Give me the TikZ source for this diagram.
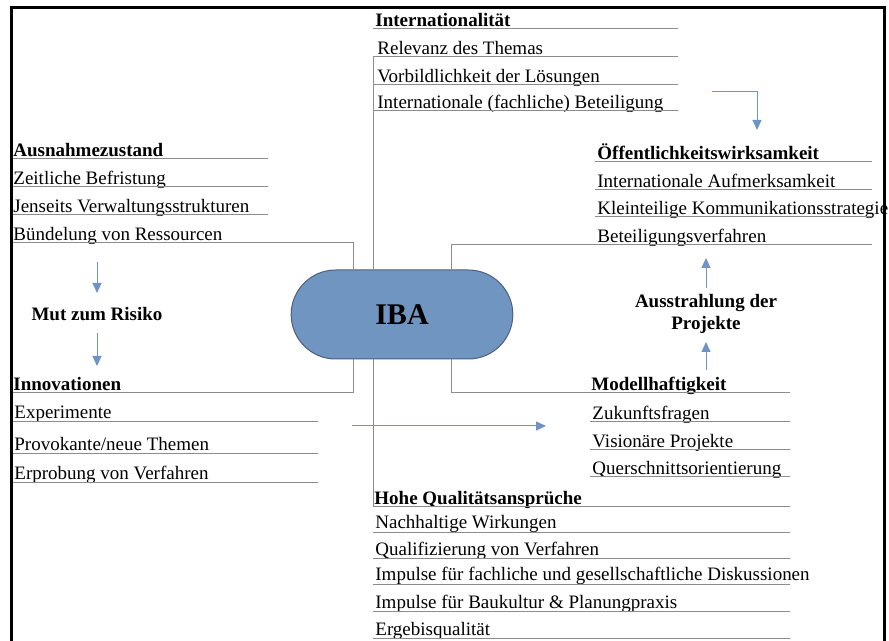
\documentclass[tikz,border=0pt]{standalone}
\usepackage{fontspec}
\setmainfont{Liberation Serif}
\usetikzlibrary{arrows.meta,positioning,shapes.misc}

\definecolor{ibablue}{HTML}{7195C1}
\definecolor{ibaedge}{HTML}{4A5F7E}
\definecolor{flowblue}{HTML}{6F93C4}
\definecolor{rulegray}{HTML}{8C8C8C}

\begin{document}
\begin{tikzpicture}[x=0.5pt,y=-0.5pt,
	item/.style={anchor=base west, inner sep=0pt, font=\fontsize{9.5}{11}\selectfont},
	head/.style={item, font=\fontsize{9.5}{11}\selectfont\bfseries},
	rule/.style={draw=rulegray, line width=0.5pt},
	flow/.style={draw=flowblue, line width=0.5pt, -{Triangle[width=4.5pt,length=5pt]}}]
	\useasboundingbox (0,0) rectangle (889,641);
	
	% frame
	\draw[line width=1.5pt] (11,641) -- (11,8) -- (884,8) -- (884,641);
	
	% centre
	\node[rounded rectangle, draw=ibaedge, fill=ibablue, line width=0.5pt,
		minimum width=117.5pt, minimum height=44.5pt,
		font=\fontsize{15}{17}\selectfont\bfseries] (iba) at (402,314.5) {IBA};
	
	% top group
	\node[head] (int) at (375,27) {Internationalität};
	\draw[rule] (373,29) -- (678,29);
	\foreach \y/\txt [count=\i] in {57/Relevanz des Themas, 85/Vorbildlichkeit der Lösungen, 111/Internationale (fachliche) Beteiligung}
	{	\node[item] (int\i) at (377,\y-2) {\txt};
		\draw[rule] (373,\y) -- (678,\y);
	}
	
	% right group
	\node[head] (oef) at (597,160) {Öffentlichkeitswirksamkeit};
	\draw[rule] (595,162) -- (872,162);
	\foreach \y/\txt [count=\i] in {190/Internationale Aufmerksamkeit, 217/Kleinteilige Kommunikationsstrategie, 245/Beteiligungsverfahren}
	{	\node[item] (oef\i) at (597,\y-2) {\txt};
		\draw[rule] (595,\y) -- (872,\y);
	}
	
	% left group
	\node[head] (aus) at (13,157) {Ausnahmezustand};
	\draw[rule] (13,159) -- (268,159);
	\foreach \y/\txt [count=\i] in {187/Zeitliche Befristung, 215/Jenseits Verwaltungsstrukturen}
	{	\node[item] (aus\i) at (13,\y-2) {\txt};
		\draw[rule] (13,\y) -- (268,\y);
	}
	\node[item] (aus3) at (13,241) {Bündelung von Ressourcen};
	
	\node[font=\fontsize{9.5}{11}\selectfont\bfseries] (mut) at (97,314) {Mut zum Risiko};
	
	\node[head] (inn) at (13,391) {Innovationen};
	\foreach \y/\txt [count=\i] in {422/Experimente, 454/{Provokante/neue Themen}, 483/Erprobung von Verfahren}
	{	\node[item] (inn\i) at (14,\y-3) {\txt};
		\draw[rule] (13,\y) -- (318,\y);
	}
	
	% lower right group
	\node[head] (mod) at (591,391) {Modellhaftigkeit};
	\foreach \y/\txt [count=\i] in {422/Zukunftsfragen, 450/Visionäre Projekte, 477/Querschnittsorientierung}
	{	\node[item] (mod\i) at (592,\y-2) {\txt};
		\draw[rule] (590,\y) -- (790,\y);
	}
	
	\node[font=\fontsize{9.5}{11}\selectfont\bfseries, align=center] (aust) at (706,314) {Ausstrahlung der\\Projekte};
	
	% bottom group
	\node[head] (hoh) at (374,505) {Hohe Qualitätsansprüche};
	\draw[rule] (373,507) -- (790,507);
	\foreach \y/\txt [count=\i] in {532/Nachhaltige Wirkungen, 558/Qualifizierung von Verfahren, 584/Impulse für fachliche und gesellschaftliche Diskussionen, 611/Impulse für Baukultur \& Planungpraxis, 638/Ergebisqualität}
	{	\node[item] (hoh\i) at (375,\y-3) {\txt};
		\draw[rule] (373,\y) -- (790,\y);
	}
	
	% connectors to the centre
	\coordinate (lt) at (353,243);
	\coordinate (rt) at (451,245);
	\coordinate (lb) at (353,393);
	\coordinate (rb) at (451,393);
	\coordinate (ct) at (373,57);
	\coordinate (cb) at (373,507);
	\draw[rule] (13,243) -- (lt) -- (lt |- iba.north);
	\draw[rule] (872,245) -- (rt) -- (rt |- iba.north);
	\draw[rule] (13,393) -- (lb) -- (lb |- iba.south);
	\draw[rule] (790,393) -- (rb) -- (rb |- iba.south);
	\draw[rule] (ct) -- (ct |- iba.north);
	\draw[rule] (cb |- iba.south) -- (cb);
	
	% flow arrows
	\coordinate (f1) at (97,262);
	\coordinate (f2) at (97,333);
	\coordinate (f3) at (706,288);
	\coordinate (f4) at (706,370);
	\coordinate (f5) at (352,426);
	\coordinate (f6) at (712,92);
	\draw[flow] (f1) -- (97,293);
	\draw[flow] (f2) -- (97,366);
	\draw[flow] (f3) -- (706,258);
	\draw[flow] (f4) -- (706,342);
	\draw[flow] (f5) -- (546,426);
	\draw[flow] (f6) -- (757,92) -- (757,130);
\end{tikzpicture}
\end{document}
